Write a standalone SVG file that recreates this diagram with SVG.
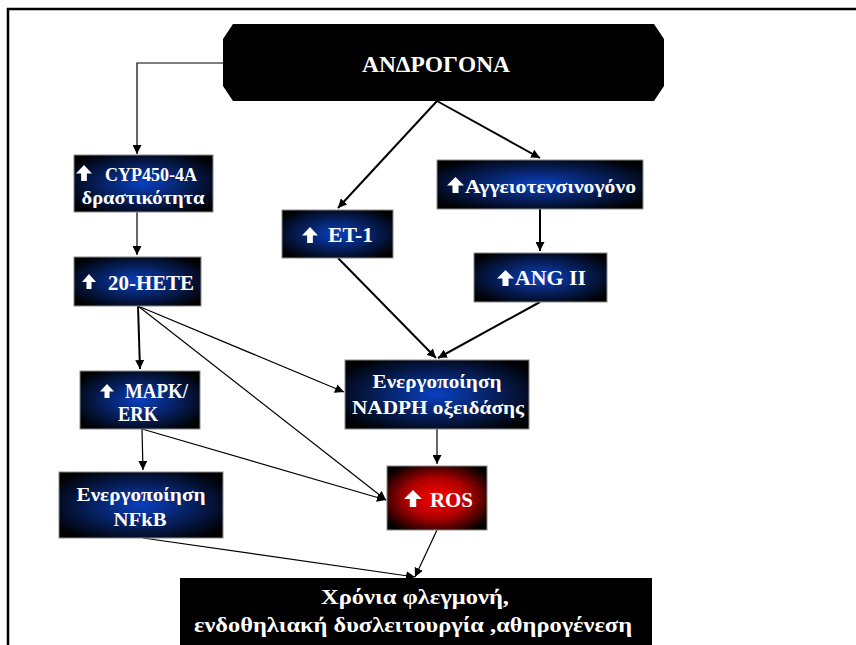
<svg xmlns="http://www.w3.org/2000/svg" width="856" height="645" viewBox="0 0 856 645">
<defs>
<radialGradient id="blue" cx="0.5" cy="0.5" r="0.62">
<stop offset="0" stop-color="#0a40c0"/>
<stop offset="0.5" stop-color="#06205f"/>
<stop offset="1" stop-color="#000000"/>
</radialGradient>
<radialGradient id="red" cx="0.5" cy="0.5" r="0.62">
<stop offset="0" stop-color="#ff0000"/>
<stop offset="0.5" stop-color="#b00000"/>
<stop offset="1" stop-color="#000000"/>
</radialGradient>
<marker id="ah" viewBox="0 0 10 10" refX="10" refY="5" markerWidth="9" markerHeight="9" markerUnits="userSpaceOnUse" orient="auto">
<path d="M0,0 L10,5 L0,10 z" fill="#000"/>
</marker>
<symbol id="up" viewBox="0 0 14 15" preserveAspectRatio="none">
<path d="M7,0 L14,8 L9.5,8 L9.5,15 L4.5,15 L4.5,8 L0,8 z" fill="#fff"/>
</symbol>
</defs>
<style>
.box{fill:url(#blue);stroke:#8a8a8a;stroke-width:1}
.t{font-family:"Liberation Serif","Times New Roman",serif;font-weight:bold;fill:#fff;font-size:19px}
.c{text-anchor:middle}
.ln{fill:none;stroke:#000;stroke-width:1.2;marker-end:url(#ah)}
.thk{stroke-width:2}
</style>
<rect x="0" y="0" width="856" height="645" fill="#fff"/>
<g id="frame">
<line x1="7" y1="9" x2="856" y2="9" stroke="#000" stroke-width="2.5"/>
<line x1="8" y1="8" x2="8" y2="645" stroke="#000" stroke-width="2.5"/>
</g>
<g id="connectors">
<path class="ln" d="M223,63 H137 V154"/>
<path class="ln thk" d="M437,101 L338,208"/>
<path class="ln thk" d="M437,101 L540,158"/>
<path class="ln thk" d="M540,209 V251"/>
<path class="ln" d="M137,212 V255"/>
<path class="ln thk" d="M338,258 L436,358"/>
<path class="ln thk" d="M540,302 L438,358"/>
<path class="ln thk" d="M138,306 L140,369"/>
<path class="ln" d="M138,306 L344,392"/>
<path class="ln" d="M138,306 L386,500"/>
<path class="ln" d="M142,429 L143,470"/>
<path class="ln" d="M142,429 L386,500"/>
<path class="ln" d="M437,429 V464"/>
<path class="ln" d="M143,538 L415,577"/>
<path class="ln" d="M437,530 L415,577"/>
</g>
<g id="androgona">
<path d="M233,24 H654 L664,39 V86 L654,101 H233 L223,86 V39 z" fill="#000"/>
<text class="t c" x="436" y="72" style="font-size:24px" textLength="148" lengthAdjust="spacingAndGlyphs">ΑΝΔΡΟΓΟΝΑ</text>
</g>
<g id="cyp">
<rect class="box" x="74" y="155" width="139" height="57"/>
<use href="#up" x="76" y="165" width="16" height="16"/>
<text class="t" x="105" y="181" textLength="92" lengthAdjust="spacingAndGlyphs">CYP450-4A</text>
<text class="t c" x="143" y="204" textLength="123" lengthAdjust="spacingAndGlyphs">δραστικότητα</text>
</g>
<g id="hete">
<rect class="box" x="74" y="257" width="127" height="49"/>
<use href="#up" x="82" y="274" width="14" height="15"/>
<text class="t" x="108" y="290" style="font-size:21px" textLength="86" lengthAdjust="spacingAndGlyphs">20-HETE</text>
</g>
<g id="et1">
<rect class="box" x="282" y="210" width="111" height="48"/>
<use href="#up" x="302" y="227" width="16" height="16"/>
<text class="t" x="328" y="242" style="font-size:21px" textLength="45" lengthAdjust="spacingAndGlyphs">ET-1</text>
</g>
<g id="aggeio">
<rect class="box" x="437" y="160" width="206" height="49"/>
<use href="#up" x="447" y="177" width="17" height="16"/>
<text class="t" x="465" y="193" textLength="171" lengthAdjust="spacingAndGlyphs">Αγγειοτενσινογόνο</text>
</g>
<g id="ang2">
<rect class="box" x="474" y="253" width="133" height="49"/>
<use href="#up" x="497" y="270" width="17" height="16"/>
<text class="t" x="515" y="285" style="font-size:21px" textLength="71" lengthAdjust="spacingAndGlyphs">ANG II</text>
</g>
<g id="nadph">
<rect class="box" x="345" y="360" width="184" height="69"/>
<text class="t c" x="437" y="388" textLength="129" lengthAdjust="spacingAndGlyphs">Ενεργοποίηση</text>
<text class="t c" x="438" y="414" textLength="172" lengthAdjust="spacingAndGlyphs">NADPH οξειδάσης</text>
</g>
<g id="mapk">
<rect class="box" x="80" y="371" width="120" height="58"/>
<use href="#up" x="100" y="384" width="14" height="14"/>
<text class="t" x="125" y="398" style="font-size:20px" textLength="63" lengthAdjust="spacingAndGlyphs">MAPK/</text>
<text class="t c" x="138" y="421" style="font-size:20px" textLength="40" lengthAdjust="spacingAndGlyphs">ERK</text>
</g>
<g id="nfkb">
<rect class="box" x="59" y="472" width="164" height="66"/>
<text class="t c" x="141" y="501" textLength="129" lengthAdjust="spacingAndGlyphs">Ενεργοποίηση</text>
<text class="t c" x="140" y="526" textLength="53" lengthAdjust="spacingAndGlyphs">NFkB</text>
</g>
<g id="ros">
<rect x="387" y="466" width="100" height="64" fill="url(#red)" stroke="#8a8a8a" stroke-width="1"/>
<use href="#up" x="404" y="490" width="18" height="17"/>
<text class="t" x="430" y="507" style="font-size:21px" textLength="43" lengthAdjust="spacingAndGlyphs">ROS</text>
</g>
<g id="outcome">
<rect x="180" y="578" width="472" height="70" fill="#000"/>
<text class="t c" x="415" y="604" style="font-size:21px" textLength="188" lengthAdjust="spacingAndGlyphs">Χρόνια φλεγμονή,</text>
<text class="t c" x="413" y="632" style="font-size:21px" textLength="438" lengthAdjust="spacingAndGlyphs">ενδοθηλιακή δυσλειτουργία ,αθηρογένεση</text>
</g>
</svg>
